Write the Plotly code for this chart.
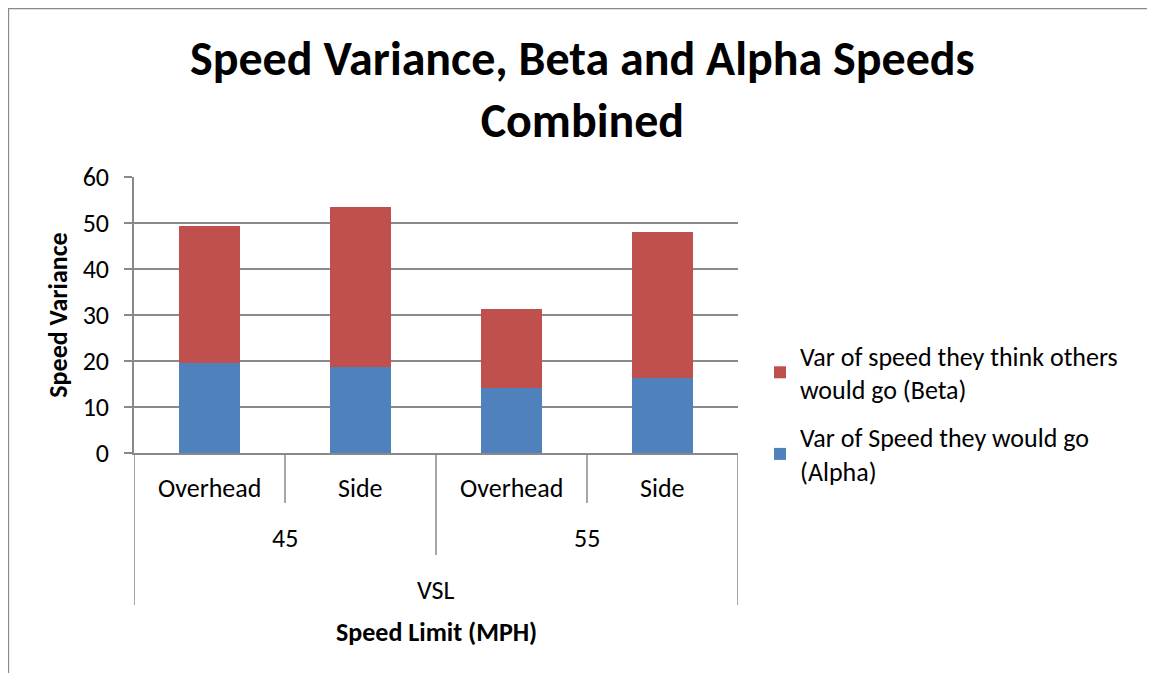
import plotly.graph_objects as go

# ---- data ----
mount = ["Overhead", "Side", "Overhead", "Side"]
speed_groups = ["45", "55"]
top_group = "VSL"
alpha = [19.6, 18.8, 14.1, 16.3]
beta = [29.7, 34.7, 17.1, 31.7]
alpha_name = "Var of Speed they would go<br>(Alpha)"
beta_name = "Var of speed they think others<br>would go (Beta)"
y_ticks = [0, 10, 20, 30, 40, 50, 60]

FONT = "Carlito, Calibri, Lato, sans-serif"
GRID = "#898989"
OFF = 8                      # browser default body margin
W, H = 1155 - OFF, 673 - OFF
# plot area in page pixels: x 134..738, y 177..453
L = 134 - OFF
R = W - (738 - OFF)
T = 177 - OFF
B = H - (453 - OFF)
PW = W - L - R
PH = H - T - B

def py(page_y):
    """page pixel y -> paper y"""
    return ((453 - OFF) - (page_y - OFF)) / PH

def pxx(page_x):
    return ((page_x - OFF) - L) / PW

xs = list(range(len(mount)))

fig = go.Figure()
fig.add_trace(go.Bar(x=xs, y=alpha, name=alpha_name, marker_color="#4F81BD",
                     marker_line_width=0, legendgroup="a", legendrank=2))
fig.add_trace(go.Bar(x=xs, y=beta, name=beta_name, marker_color="#C0504D",
                     marker_line_width=0, legendgroup="b", legendrank=1))

TXT = dict(size=26, family=FONT, color="black")
NUM = dict(size=26, family=FONT, color="black")

annotations = []
for i, m in enumerate(mount):
    annotations.append(dict(x=i, y=0, xref="x", yref="paper", text=m, showarrow=False,
                            yanchor="middle", yshift=-35, font=TXT))
for j, g in enumerate(speed_groups):
    annotations.append(dict(x=2 * j + 0.5, y=0, xref="x", yref="paper", text=g, showarrow=False,
                            yanchor="middle", yshift=-85, font=NUM))
annotations.append(dict(x=(len(mount) - 1) / 2, y=0, xref="x", yref="paper", text=top_group, showarrow=False,
                        yanchor="middle", yshift=-137, font=TXT))
annotations.append(dict(x=(len(mount) - 1) / 2, y=0, xref="x", yref="paper", text="<b>Speed Limit (MPH)</b>",
                        showarrow=False, yanchor="middle", yshift=-179, font=TXT))
# chart title
annotations.append(dict(x=pxx(582), y=py(90), xref="paper", yref="paper",
                        text="<b>Speed Variance, Beta and Alpha Speeds<br>Combined</b>",
                        showarrow=False, xanchor="center", yanchor="middle",
                        font=dict(size=48, family=FONT, color="black")))

shapes = []
def vline(x, depth):
    shapes.append(dict(type="line", xref="x", yref="paper", x0=x, x1=x, y0=0, y1=-depth / PH,
                       line=dict(color=GRID, width=1.5)))
vline(-0.5, 152)
vline(len(mount) - 0.5, 152)
vline(0.5, 50)
vline(2.5, 50)
vline(1.5, 102)
# outer chart border
shapes.append(dict(type="rect", xref="paper", yref="paper", x0=pxx(8.5), x1=pxx(1180),
                   y0=py(700), y1=py(8.5), line=dict(color=GRID, width=1.3)))

fig.update_layout(
    width=W, height=H,
    margin=dict(l=L, r=R, t=T, b=B),
    paper_bgcolor="white", plot_bgcolor="white",
    barmode="stack", bargap=0.6,
    font=dict(family=FONT, color="black"),
    xaxis=dict(range=[-0.5, len(mount) - 0.5], showticklabels=False, showgrid=False,
               zeroline=False, showline=True, linecolor=GRID, linewidth=1.5, ticks=""),
    yaxis=dict(range=[0, 60], tickvals=y_ticks, showgrid=True, gridcolor=GRID, gridwidth=1.5,
               zeroline=False, showline=True, linecolor=GRID, linewidth=1.5,
               ticks="outside", ticklen=8, tickcolor=GRID, tickwidth=1.5,
               ticklabelstandoff=10,
               tickfont=NUM,
               title=dict(text="<b>Speed Variance</b>", standoff=8, font=TXT)),
    legend=dict(x=pxx(760), xanchor="left", y=py(332), yanchor="top",
                traceorder="grouped", tracegroupgap=11,
                font=TXT, bgcolor="rgba(0,0,0,0)"),
    annotations=annotations,
    shapes=shapes,
)

fig.write_html("out.html")
